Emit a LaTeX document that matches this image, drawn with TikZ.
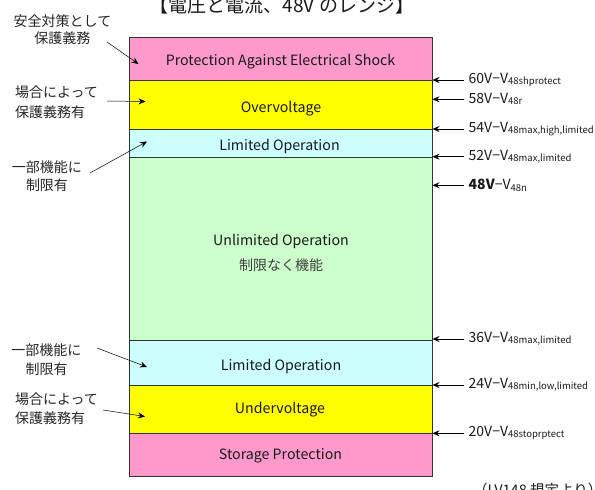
\documentclass[tikz,border=0pt]{standalone}
\usepackage{fontspec}
\setmainfont{Noto Sans CJK JP}
\usetikzlibrary{arrows.meta}
\definecolor{pinkc}{HTML}{FF99CC}
\definecolor{yelc}{HTML}{FFFF00}
\definecolor{cyanc}{HTML}{CCFFFF}
\definecolor{greenc}{HTML}{CCFFCC}
\definecolor{txt}{HTML}{1A1A1A}
\newcommand\sbs[1]{\raisebox{-1.2pt}{\fontsize{9.5}{10}\selectfont #1}}
\tikzset{
  band/.style={draw=black!80, line width=0.7pt, minimum width=302.4pt, inner sep=0pt, anchor=north west},
  boxtext/.style={font=\fontsize{14.2}{16}\selectfont, text=txt, inner sep=0pt},
  lefttext/.style={font=\fontsize{14}{18}\selectfont, text=black!85, inner sep=0pt},
  righttext/.style={font=\fontsize{14}{15}\selectfont, text=txt, inner sep=0pt, anchor=west},
  larrow/.style={-{Stealth[length=7pt,width=6pt,inset=2.5pt]}, line width=0.5pt, black},
  rarrow/.style={-{Stealth[length=7pt,width=6pt,inset=2.5pt]}, line width=0.6pt, black},
}
\begin{document}
\begin{tikzpicture}[x=1pt,y=-1pt]
\useasboundingbox (0,0) rectangle (595,490);
% bands
\node[band, fill=pinkc, minimum height=43pt] (b1) at (129.3,37) {};
\node[band, fill=yelc, minimum height=48.5pt] (b2) at (129.3,80) {};
\node[band, fill=cyanc, minimum height=28.2pt] (b3) at (129.3,128.5) {};
\node[band, fill=greenc, minimum height=182.8pt] (b4) at (129.3,156.7) {};
\node[band, fill=cyanc, minimum height=45.5pt] (b5) at (129.3,339.5) {};
\node[band, fill=yelc, minimum height=48.3pt] (b6) at (129.3,385) {};
\node[band, fill=pinkc, minimum height=42.2pt] (b7) at (129.3,433.3) {};
% title
\node[font=\fontsize{19}{20}\selectfont, anchor=base, text=txt, inner sep=0pt] (title) at (282,12) {【電圧と電流、48V のレンジ】};
% band labels
\node[boxtext] (t1) at (280.5,62) {Protection Against Electrical Shock};
\node[boxtext] (t2) at (281,109) {Overvoltage};
\node[boxtext] (t3) at (279.5,146) {Limited Operation};
\node[boxtext] (t4) at (281,241) {Unlimited Operation};
\node[font=\fontsize{14}{16}\selectfont, text=black!75, inner sep=0pt] (t4b) at (281,265) {制限なく機能};
\node[boxtext] (t5) at (281,366) {Limited Operation};
\node[boxtext] (t6) at (280,410) {Undervoltage};
\node[boxtext] (t7) at (280.5,456) {Storage Protection};
% left labels
\node[lefttext, align=center, font=\fontsize{14}{17}\selectfont] (l1) at (62.5,30) {安全対策として\\保護義務};
\node[lefttext, align=left, font=\fontsize{14}{20}\selectfont] (l2) at (56.5,102.5) {場合によって\\保護義務有};
\node[lefttext, align=center, font=\fontsize{14}{18.5}\selectfont] (l3) at (47,176) {一部機能に\\制限有};
\node[lefttext, align=center, font=\fontsize{14}{19}\selectfont] (l4) at (46.5,359.5) {一部機能に\\制限有};
\node[lefttext, align=left, font=\fontsize{14}{18.5}\selectfont] (l5) at (56.5,408.5) {場合によって\\保護義務有};
\coordinate (p1a) at (107,42);  \coordinate (p1b) at (138.5,64);
\coordinate (p2a) at (107,101); \coordinate (p2b) at (145.5,101.5);
\coordinate (p3a) at (90,173);  \coordinate (p3b) at (147,141.5);
\coordinate (p4a) at (97,348);  \coordinate (p4b) at (147,367);
\coordinate (p5a) at (103,410); \coordinate (p5b) at (145,416.5);
\draw[larrow] (p1a) -- (p1b);
\draw[larrow] (p2a) -- (p2b);
\draw[larrow] (p3a) -- (p3b);
\draw[larrow] (p4a) -- (p4b);
\draw[larrow] (p5a) -- (p5b);
% right markers
\foreach \n/\yy in {r1/80,r2/99.3,r3/129,r4/156.7,r5/185.3,r6/339,r7/385,r8/433.3}{
  \coordinate (\n s) at (464,\yy);
  \coordinate (\n e) at (432.5,\yy);
}
\draw[rarrow] (r1s) -- (r1e);
\draw[rarrow] (r2s) -- (r2e);
\draw[rarrow] (r3s) -- (r3e);
\draw[rarrow] (r4s) -- (r4e);
\draw[rarrow, line width=1.3pt] (r5s) -- (r5e);
\draw[rarrow] (r6s) -- (r6e);
\draw[rarrow] (r7s) -- (r7e);
\draw[rarrow] (r8s) -- (r8e);
\node[righttext] (v1) at ([xshift=4.5pt]r1s) {60V−V\sbs{48shprotect}};
\node[righttext] (v2) at ([xshift=4.5pt]r2s) {58V−V\sbs{48r}};
\node[righttext] (v3) at ([xshift=4.5pt]r3s) {54V−V\sbs{48max,high,limited}};
\node[righttext] (v4) at ([xshift=4.5pt]r4s) {52V−V\sbs{48max,limited}};
\node[righttext] (v5) at ([xshift=4.5pt]r5s) {\textbf{48V}−V\sbs{48n}};
\node[righttext] (v6) at ([xshift=4.5pt]r6s) {36V−V\sbs{48max,limited}};
\node[righttext] (v7) at ([xshift=4.5pt]r7s) {24V−V\sbs{48min,low,limited}};
\node[righttext] (v8) at ([xshift=4.5pt]r8s) {20V−V\sbs{48stoprptect}};
% source note
\node[font=\fontsize{14.5}{15}\selectfont, text=txt, anchor=west, inner sep=0pt] (note) at (473,490) {（LV148 規定より）};
\end{tikzpicture}
\end{document}
